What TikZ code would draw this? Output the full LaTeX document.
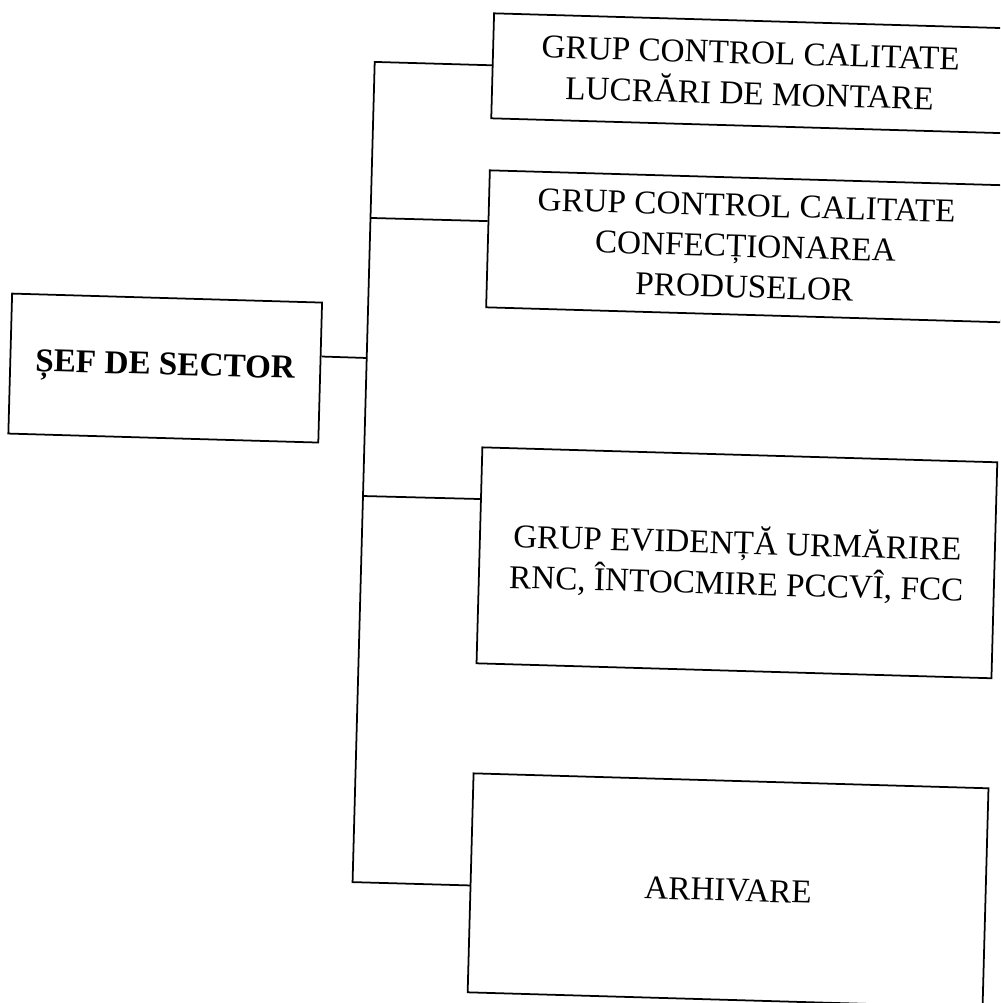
\documentclass[tikz,border=0pt]{standalone}
\usepackage{fontspec}
\setmainfont{Liberation Serif}
\usetikzlibrary{calc}
\begin{document}
\begin{tikzpicture}[x=0.02cm,y=-0.02cm,
  box/.style={draw, line width=1pt, inner sep=0pt, align=center,
              font=\fontsize{18.9}{23.2}\selectfont},
  link/.style={line width=1pt}]
\useasboundingbox (0,0) rectangle (1000,1003);
\fill[white] (0,0) rectangle (1000,1003);
\clip (0,0) rectangle (1000,1003);
\begin{scope}[cm={1,-0.029,0.027,1,(0,0)}, transform shape]
  \node[box, minimum width=6.2cm, minimum height=2.8cm] (sef) at (175,363)
       {\textbf{ȘEF DE SECTOR}};
  \node[box, minimum width=10.3cm, minimum height=2.1cm] (g1) at (751.5,51.5)
       {GRUP CONTROL CALITATE\\LUCRĂRI DE MONTARE};
  \node[box, minimum width=10.3cm, minimum height=2.74cm] (g2) at (751.5,224.5)
       {GRUP CONTROL CALITATE\\CONFECȚIONAREA\\PRODUSELOR};
  \node[box, minimum width=10.3cm, minimum height=4.32cm] (g3) at (751.5,541)
       {GRUP EVIDENȚĂ URMĂRIRE\\RNC, ÎNTOCMIRE PCCVÎ, FCC};
  \node[box, minimum width=10.3cm, minimum height=4.38cm] (g4) at (751.5,868.5)
       {ARHIVARE};
  \coordinate (t1) at (376,51);
  \coordinate (t2) at (376,207);
  \coordinate (ts) at (376,347);
  \coordinate (t3) at (376,485);
  \coordinate (t4) at (376,871);
  \draw[link] ($(g1.north west)!0.495!(g1.south west)$) -- (t1) -- (t4)
              -- ($(g4.north west)!0.511!(g4.south west)$);
  \draw[link] (t2) -- ($(g2.north west)!0.372!(g2.south west)$);
  \draw[link] (t3) -- ($(g3.north west)!0.241!(g3.south west)$);
  \draw[link] ($(sef.north east)!0.386!(sef.south east)$) -- (ts);
\end{scope}
\end{tikzpicture}
\end{document}
